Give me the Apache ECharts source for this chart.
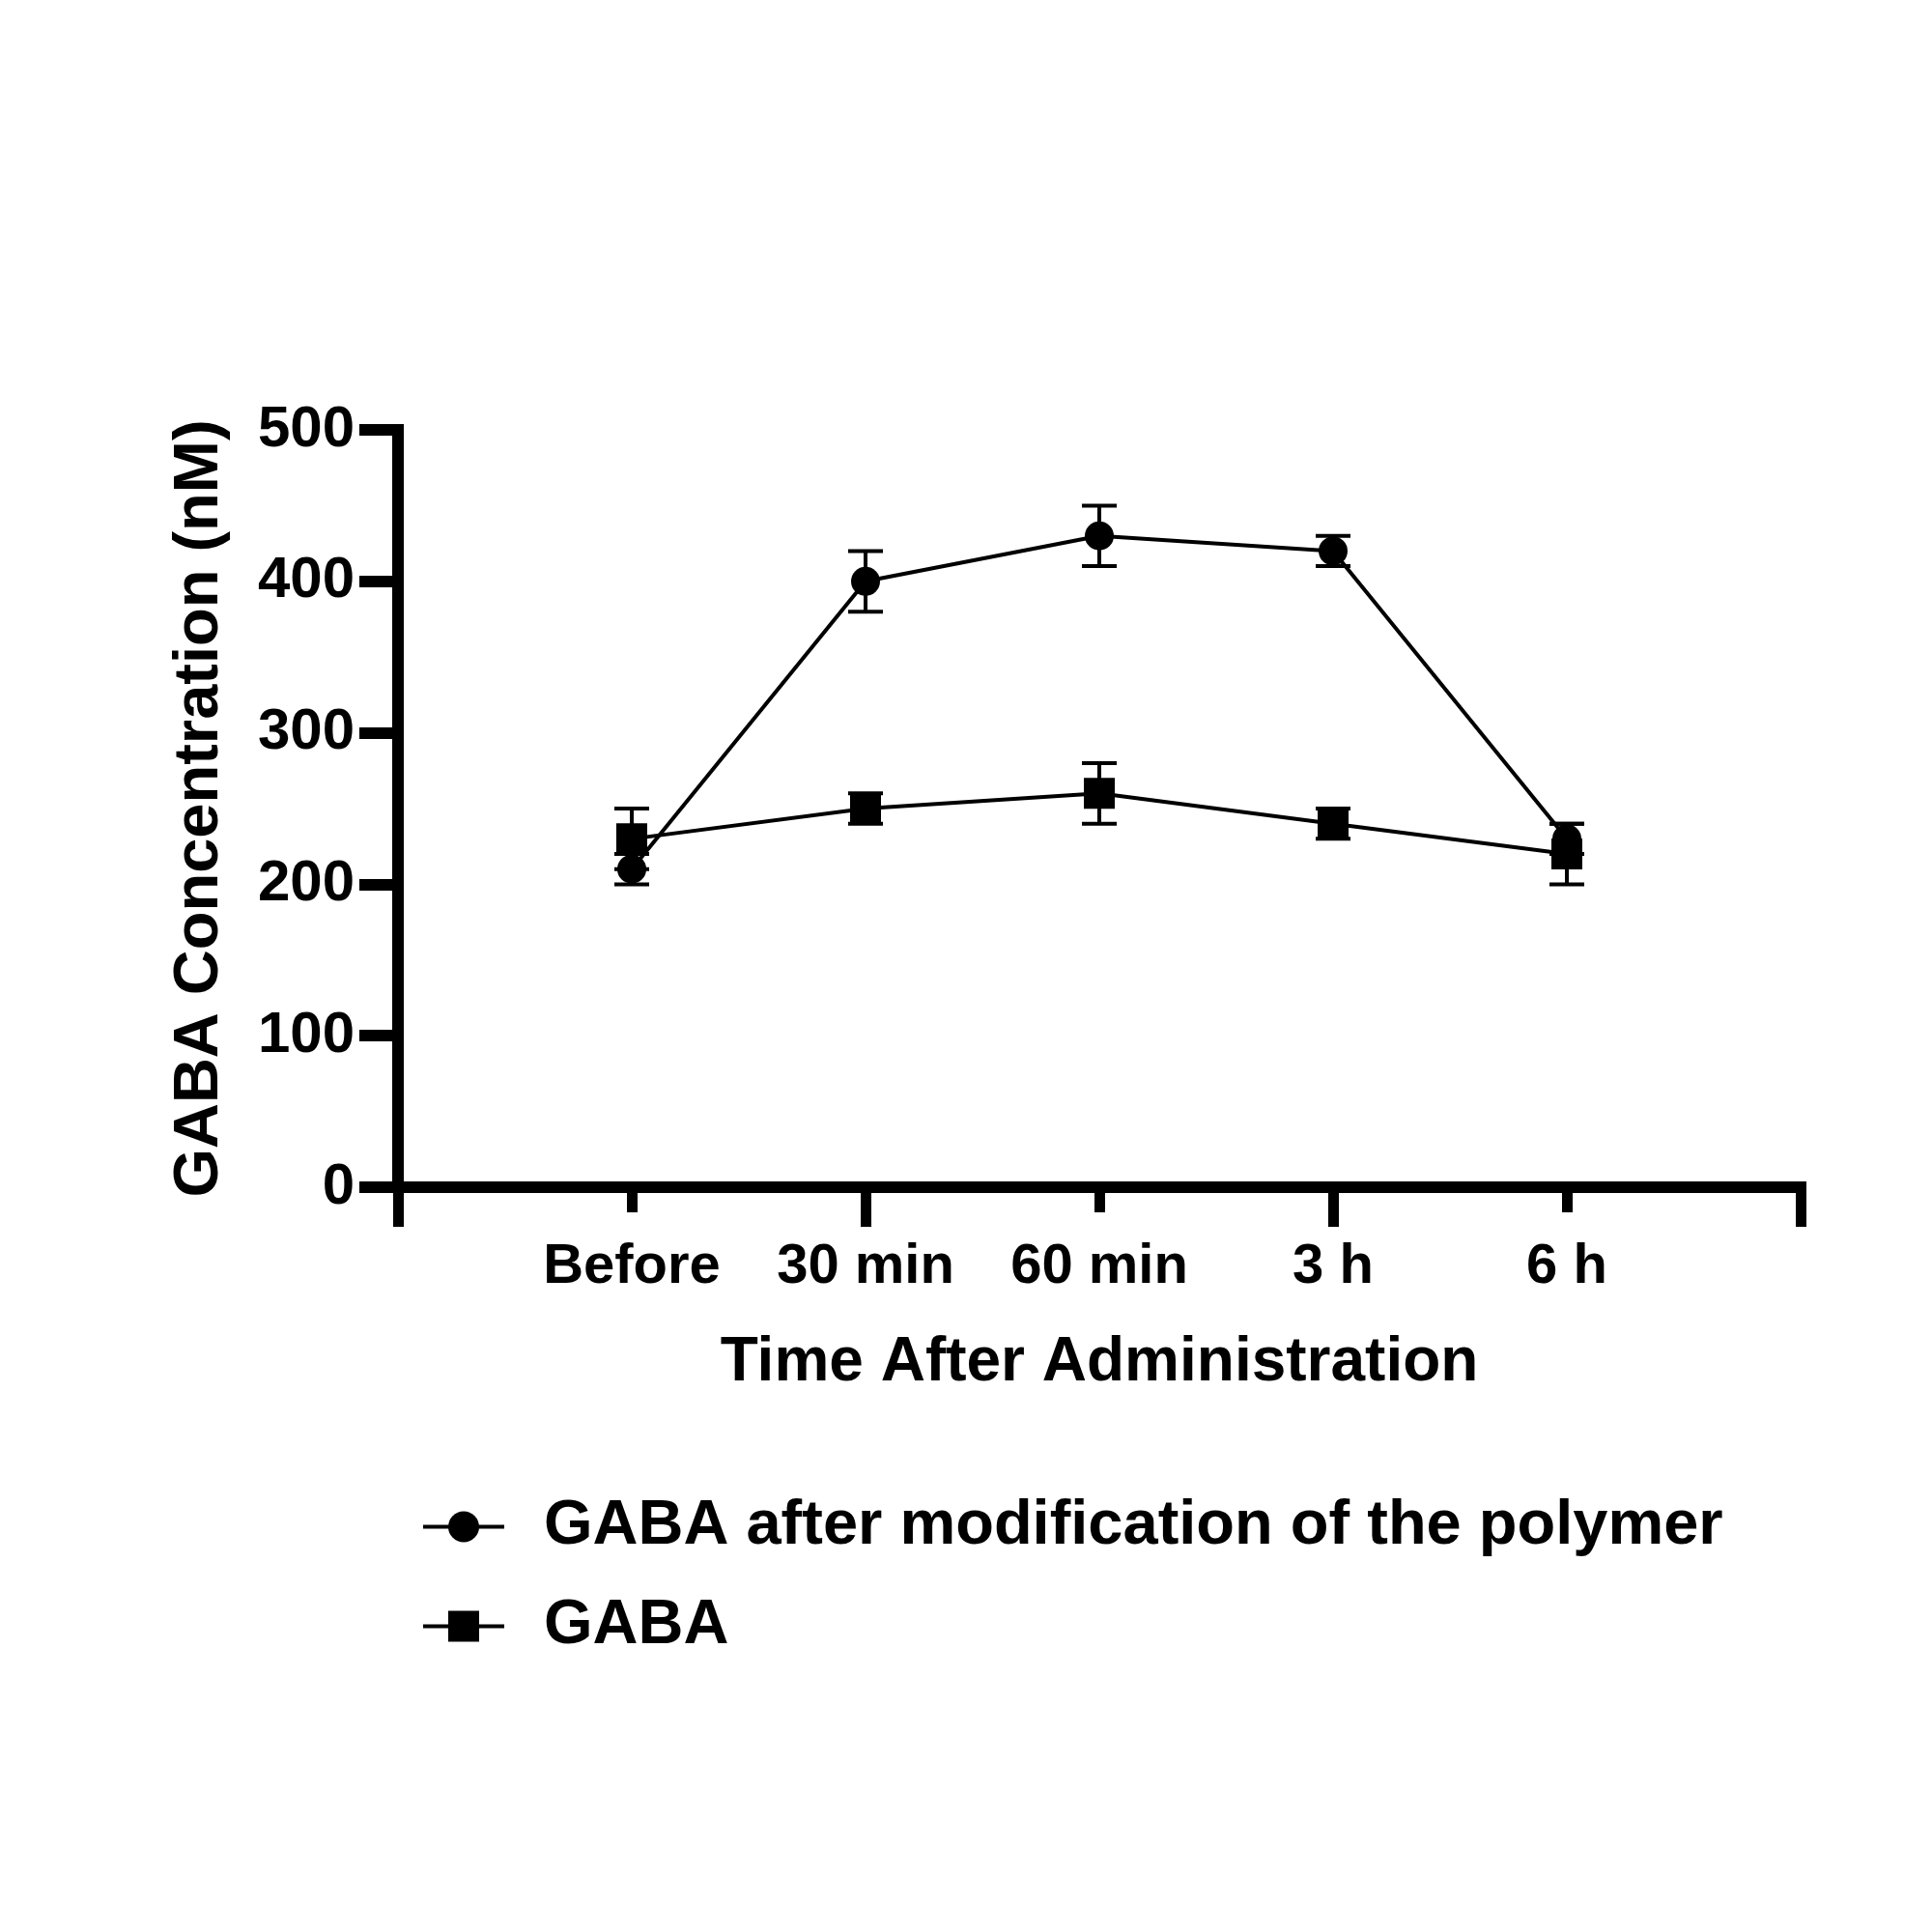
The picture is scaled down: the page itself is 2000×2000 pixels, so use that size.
<!DOCTYPE html>
<html>
<head>
<meta charset="utf-8">
<script src="https://cdn.jsdelivr.net/npm/echarts@6/dist/echarts.min.js"></script>
<style>
html,body{margin:0;padding:0;background:#fff;}
#chart{width:2000px;height:2000px;}
</style>
</head>
<body>
<div id="chart"></div>
<script>
// ---- data ----
const categories = ['Before', '30 min', '60 min', '3 h', '6 h'];
const modifiedName = 'GABA after modification of the polymer';
const modifiedMean = [210, 400, 430, 420, 230];
const modifiedErr  = [10, 20, 20, 10, 10];
const gabaName = 'GABA';
const gabaMean = [230, 250, 260, 240, 220];
const gabaErr  = [20, 10, 20, 10, 20];
const yTickMin = 0, yTickMax = 500, yTickStep = 100;

const FONT = '"Liberation Sans", Arial, Helvetica, sans-serif';
const chart = echarts.init(document.getElementById('chart'), null, {renderer: 'canvas'});

const pts = (means) => means.map((m, i) => [i + 1, m]);
const errs = (means, e) => means.map((m, i) => [i + 1, m - e[i], m + e[i]]);

function errorBar(params, api) {
  const x = api.value(0);
  const lo = api.coord([x, api.value(1)]);
  const hi = api.coord([x, api.value(2)]);
  const hw = 18;
  const st = {stroke: '#000', lineWidth: 4};
  return {
    type: 'group',
    children: [
      {type: 'line', shape: {x1: lo[0], y1: lo[1], x2: hi[0], y2: hi[1]}, style: st},
      {type: 'line', shape: {x1: lo[0] - hw, y1: lo[1], x2: lo[0] + hw, y2: lo[1]}, style: st},
      {type: 'line', shape: {x1: hi[0] - hw, y1: hi[1], x2: hi[0] + hw, y2: hi[1]}, style: st}
    ]
  };
}

const option = {
  backgroundColor: '#fff',
  animation: false,
  grid: {left: 412, right: 136, top: 445, bottom: 771, containLabel: false},
  legend: {
    orient: 'vertical',
    left: 431,
    top: 1543,
    itemWidth: 84,
    itemHeight: 40,
    itemGap: 38,
    lineStyle: {width: 4, color: '#000'},
    data: [modifiedName, gabaName],
    textStyle: {fontSize: 65, fontWeight: 'bold', color: '#000', fontFamily: FONT, padding: [0, 0, 0, 36]}
  },
  xAxis: [
    {
      type: 'value', min: 0, max: 6, interval: 1, position: 'bottom',
      axisLine: {show: true, lineStyle: {color: '#000', width: 12, cap: 'square'}},
      axisTick: {show: true, length: 26, lineStyle: {color: '#000', width: 11}},
      axisLabel: {
        margin: 54, fontSize: 58, fontWeight: 'bold', color: '#000', fontFamily: FONT,
        formatter: (v) => categories[v - 1] !== undefined ? categories[v - 1] : ''
      },
      splitLine: {show: false},
      name: 'Time After Administration', nameLocation: 'middle', nameGap: 150,
      nameTextStyle: {fontSize: 64, fontWeight: 'bold', color: '#000', fontFamily: FONT}
    },
    {
      type: 'value', min: 0, max: 6, interval: 2, position: 'bottom', gridIndex: 0, offset: 0,
      axisLine: {show: false},
      axisTick: {show: true, length: 41, lineStyle: {color: '#000', width: 11}},
      axisLabel: {show: false},
      splitLine: {show: false}
    }
  ],
  yAxis: {
    type: 'value', min: yTickMin, max: yTickMax, interval: yTickStep,
    axisLine: {show: true, lineStyle: {color: '#000', width: 12, cap: 'square'}},
    axisTick: {show: true, length: 40, lineStyle: {color: '#000', width: 12}},
    axisLabel: {margin: 45, fontSize: 60, fontWeight: 'bold', color: '#000', fontFamily: FONT},
    splitLine: {show: false},
    name: 'GABA Concentration (nM)', nameLocation: 'middle', nameGap: 172, nameRotate: 90,
    nameTextStyle: {fontSize: 65, fontWeight: 'bold', color: '#000', fontFamily: FONT}
  },
  series: [
    {
      name: 'err-mod', type: 'custom', xAxisIndex: 0, yAxisIndex: 0,
      renderItem: errorBar, data: errs(modifiedMean, modifiedErr), z: 3, silent: true
    },
    {
      name: 'err-gaba', type: 'custom', xAxisIndex: 0, yAxisIndex: 0,
      renderItem: errorBar, data: errs(gabaMean, gabaErr), z: 3, silent: true
    },
    {
      name: modifiedName, type: 'line', xAxisIndex: 0, yAxisIndex: 0,
      data: pts(modifiedMean), symbol: 'circle', symbolSize: 30,
      lineStyle: {color: '#000', width: 4}, itemStyle: {color: '#000'}, z: 4
    },
    {
      name: gabaName, type: 'line', xAxisIndex: 0, yAxisIndex: 0,
      data: pts(gabaMean), symbol: 'rect', symbolSize: 32,
      lineStyle: {color: '#000', width: 4}, itemStyle: {color: '#000'}, z: 4
    }
  ]
};
chart.setOption(option);
</script>
</body>
</html>
